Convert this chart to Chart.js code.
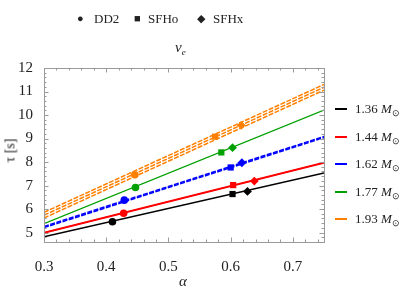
<!DOCTYPE html>
<html>
<head>
<meta charset="utf-8">
<script src="https://cdn.jsdelivr.net/npm/chart.js@4.4.0/dist/chart.umd.min.js"></script>
<style>
body { margin: 0; background: #fff; }
#wrap { position: relative; width: 407px; height: 295px; font-family: "Liberation Serif", "Times New Roman", Times, serif; color: #222; }
.lbl { position: absolute; white-space: nowrap; font-size: 13px; line-height: 13px; }
.sw { position: absolute; width: 12px; height: 2px; }
sub { font-size: 9px; vertical-align: -3px; }
</style>
</head>
<body>
<div id="wrap">
<canvas id="myChart" width="407" height="295"></canvas>

<!-- top legend: equations of state -->
<div class="lbl" style="left:77px; top:12px; font-size:11px;">&#9679;</div>
<div class="lbl" style="left:94px; top:12px;">DD2</div>
<div class="lbl" style="left:134px; top:12px; font-size:11px;">&#9632;</div>
<div class="lbl" style="left:148px; top:12px;">SFHo</div>
<div class="lbl" style="left:197px; top:12px; font-size:11px;">&#9670;</div>
<div class="lbl" style="left:213px; top:12px;">SFHx</div>

<div class="lbl" style="left:175px; top:41px; font-size:15px;"><i>&nu;</i><sub><i>e</i></sub></div>
<div class="lbl" style="left:-2px; top:144px; font-size:14px; transform:rotate(-90deg); transform-origin:center;">&tau; [s]</div>
<div class="lbl" style="left:179px; top:275px; font-size:15px;"><i>&alpha;</i></div>

<div id="masses"></div>
</div>

<script>
// x / y ticks
var xTicks = [0.3, 0.4, 0.5, 0.6, 0.7];
var yTicks = [5, 6, 7, 8, 9, 10, 11, 12];
var alphaRange = [0.3, 0.75];

// mass labels and colours
var masses = ["1.36", "1.44", "1.62", "1.77", "1.93"];
var colors = ["#000000", "#ff0000", "#0000ff", "#00a000", "#ff8000"];
var dashes = [[], [], [5, 1.5], [], [5, 1.5]];

// fitted lines: tau at alpha = 0.3 and alpha = 0.75 (one pair per line)
var fit136 = [[4.82, 7.53]];
var fit144 = [[4.98, 7.96], [5.00, 7.98]];
var fit162 = [[5.21, 9.04], [5.26, 9.09]];
var fit177 = [[5.38, 10.21]];
var fit193 = [[5.62, 11.06], [5.74, 11.18], [5.86, 11.30]];
var fits = [fit136, fit144, fit162, fit177, fit193];

// simulation points, order of masses as above
var dd2Alpha = [0.410, 0.428, 0.429, 0.447, 0.446];
var dd2Tau   = [5.46, 5.82, 6.38, 6.92, 7.46];
var sfhoAlpha = [0.603, 0.604, 0.600, 0.585, 0.575];
var sfhoTau   = [6.64, 7.02, 7.77, 8.41, 9.08];
var sfhxAlpha = [0.627, 0.638, 0.618, 0.603, 0.617];
var sfhxTau   = [6.75, 7.19, 7.97, 8.61, 9.56];

var datasets = [];
for (var m = 0; m < fits.length; m++) {
  for (var k = 0; k < fits[m].length; k++) {
    datasets.push({
      data: [{x: alphaRange[0], y: fits[m][k][0]}, {x: alphaRange[1], y: fits[m][k][1]}],
      showLine: true,
      borderColor: colors[m],
      borderWidth: m === 3 ? 1.4 : 1.5,
      borderDash: dashes[m],
      pointRadius: 0
    });
  }
}

function markers(ax, ty, style, r) {
  var pts = [];
  for (var i = 0; i < ax.length; i++) pts.push({x: ax[i], y: ty[i]});
  return {
    data: pts,
    showLine: false,
    pointStyle: style,
    pointRadius: r,
    pointBackgroundColor: colors,
    pointBorderColor: colors,
    pointBorderWidth: 0
  };
}
datasets.push(markers(dd2Alpha, dd2Tau, 'circle', 3.8));
datasets.push(markers(sfhoAlpha, sfhoTau, 'rect', 4.4));
datasets.push(markers(sfhxAlpha, sfhxTau, 'rectRot', 4.4));

// right legend
var html = "";
for (var i = 0; i < masses.length; i++) {
  var y = Math.round(109 + i * 27.5);
  html += '<div class="sw" style="left:335px; top:' + (y - 1) + 'px; background:' + colors[i] + '"></div>';
  html += '<div class="lbl" style="left:355px; top:' + (y - 7) + 'px;">' + masses[i] + ' <i>M</i><sub>&#8857;</sub></div>';
}
document.getElementById('masses').innerHTML = html;

// inward frame ticks, Mathematica style
var frameTicks = {
  id: 'frameTicks',
  afterDraw: function(chart) {
    var c = chart.ctx, a = chart.chartArea;
    var xs = chart.scales.x, ys = chart.scales.y;
    c.save();
    c.strokeStyle = '#9a9a9a';
    c.lineWidth = 1;
    c.strokeRect(a.left + 0.5, a.top + 0.5, a.right - a.left, a.bottom - a.top);
    c.beginPath();
    for (var i = 0; i <= 22; i++) {
      var v = 0.3 + i * 0.02;
      var len = (i % 5 === 0) ? 4.5 : 2.5;
      var px = Math.round(xs.getPixelForValue(v)) + 0.5;
      c.moveTo(px, a.bottom); c.lineTo(px, a.bottom - len);
      c.moveTo(px, a.top); c.lineTo(px, a.top + len);
    }
    for (var j = 0; j <= 37; j++) {
      var w = 4.6 + j * 0.2;
      var lenY = (Math.abs(w - Math.round(w)) < 0.01) ? 4.5 : 2.5;
      var py = Math.round(ys.getPixelForValue(w)) + 0.5;
      c.moveTo(a.left, py); c.lineTo(a.left + lenY, py);
      c.moveTo(a.right, py); c.lineTo(a.right - lenY, py);
    }
    c.stroke();
    c.restore();
  }
};

var ctx = document.getElementById('myChart').getContext('2d');
var chart = new Chart(ctx, {
  type: 'scatter',
  data: { datasets: datasets },
  options: {
    responsive: false,
    animation: false,
    layout: { padding: { top: 68, right: 83, left: 0, bottom: 0 } },
    plugins: { legend: { display: false }, tooltip: { enabled: false } },
    scales: {
      x: {
        type: 'linear', min: 0.3, max: 0.75,
        grid: { display: false }, border: { display: false },
        afterFit: function(s) { s.height = 53; },
        afterBuildTicks: function(s) { s.ticks = xTicks.map(function(v) { return {value: v}; }); },
        ticks: {
          padding: 8, color: '#222',
          font: { family: '"Liberation Serif", "Times New Roman", serif', size: 15 },
          callback: function(v) { return v.toFixed(1); }
        }
      },
      y: {
        type: 'linear', min: 4.6, max: 12,
        grid: { display: false }, border: { display: false },
        afterFit: function(s) { s.width = 44; },
        afterBuildTicks: function(s) { s.ticks = yTicks.map(function(v) { return {value: v}; }); },
        ticks: {
          padding: 3, color: '#222',
          font: { family: '"Liberation Serif", "Times New Roman", serif', size: 15 }
        }
      }
    }
  },
  plugins: [frameTicks]
});
</script>
</body>
</html>
